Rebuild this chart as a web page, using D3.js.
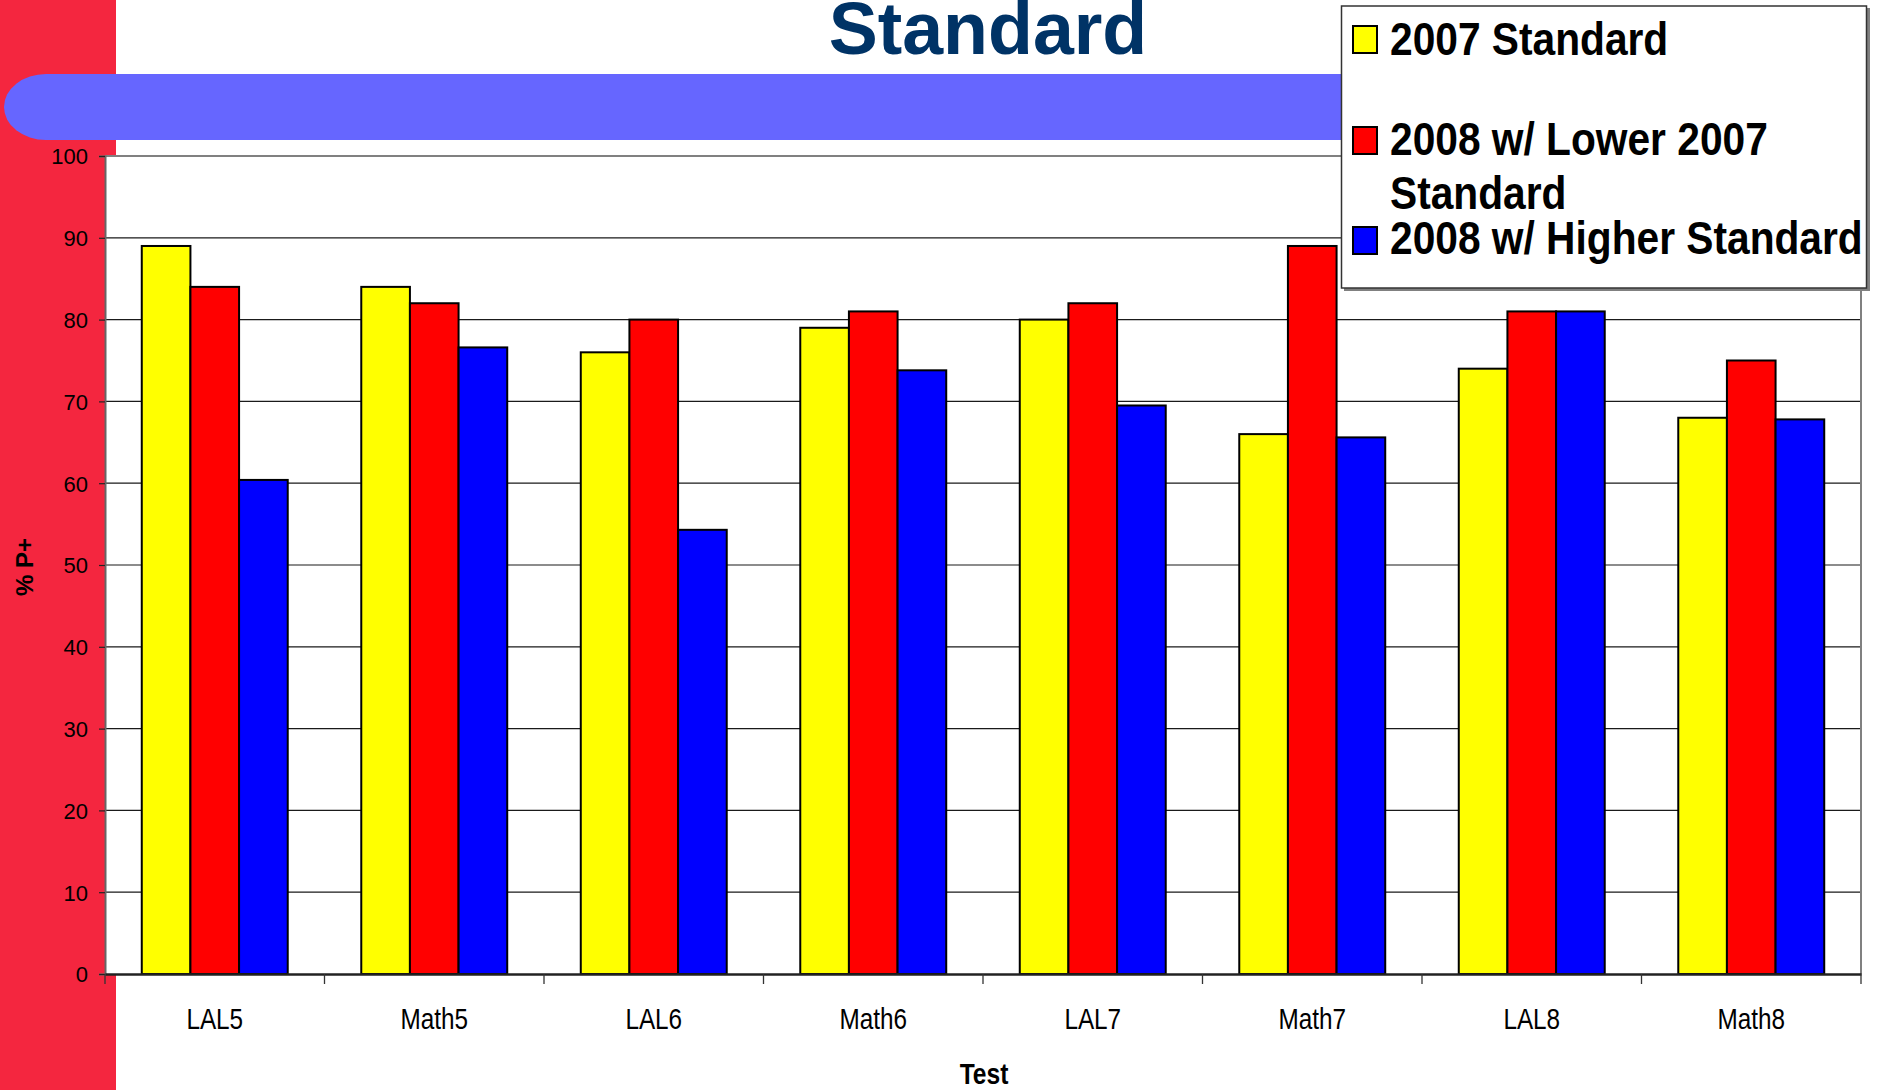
<!DOCTYPE html>
<html>
<head>
<meta charset="utf-8">
<script src="https://cdn.jsdelivr.net/npm/d3@7"></script>
<style>
  html, body { margin: 0; padding: 0; background: #fff; }
  svg { display: block; font-family: "Liberation Sans", Arial, sans-serif; }
</style>
</head>
<body>
<svg id="chart" width="1881" height="1090"></svg>
<script>
// ---- data ----
const categories = ["LAL5", "Math5", "LAL6", "Math6", "LAL7", "Math7", "LAL8", "Math8"];
const seriesNames = ["2007 Standard", "2008 w/ Lower 2007 Standard", "2008 w/ Higher Standard"];
const legendLines = [["2007 Standard"], ["2008 w/ Lower 2007", "Standard"], ["2008 w/ Higher Standard"]];
const seriesColors = ["#FFFF00", "#FF0000", "#0000FF"];
const values2007 = [89, 84, 76, 79, 80, 66, 74, 68];
const values2008Lower = [84, 82, 80, 81, 82, 89, 81, 75];
const values2008Higher = [60.4, 76.6, 54.3, 73.8, 69.5, 65.6, 81, 67.8];
const yTicks = [0, 10, 20, 30, 40, 50, 60, 70, 80, 90, 100];
const titleText = "Standard";
const yTitle = "% P+";
const xTitle = "Test";

const seriesValues = [values2007, values2008Lower, values2008Higher];

// ---- layout ----
const W = 1881, H = 1090;
const plot = { left: 105, right: 1861, top: 156, bottom: 974 };
const svg = d3.select("#chart");

// red strip on the left
svg.append("rect").attr("x", 0).attr("y", 0).attr("width", 116).attr("height", H).attr("fill", "#F4263F");

// blue pill banner
(function () {
  const x0 = 4, x1 = 1400, y0 = 74, y1 = 140, rx = 42, ry = (y1 - y0) / 2;
  svg.append("path")
    .attr("d", `M${x0 + rx},${y0} L${x1},${y0} L${x1},${y1} L${x0 + rx},${y1} A${rx},${ry} 0 0 1 ${x0 + rx},${y0} Z`)
    .attr("fill", "#6666FF");
})();

// title (second line visible)
svg.append("text").attr("x", 988).attr("y", 54).attr("text-anchor", "middle")
  .attr("font-size", 73.5).attr("font-weight", "bold").attr("fill", "#003366").text(titleText);

// plot area background
svg.append("rect").attr("x", plot.left).attr("y", plot.top)
  .attr("width", plot.right - plot.left).attr("height", plot.bottom - plot.top).attr("fill", "#fff");

// scales
const x = d3.scaleBand().domain(categories).range([plot.left, plot.right])
  .paddingInner(0.335).paddingOuter(0.1675);
const xs = d3.scaleBand().domain(d3.range(seriesNames.length)).range([0, x.bandwidth()]).padding(0);
const y = d3.scaleLinear().domain([0, 100]).range([plot.bottom, plot.top]);

// gridlines
svg.append("g").selectAll("line").data(yTicks.filter(t => t > 0 && t < 100)).join("line")
  .attr("x1", plot.left).attr("x2", plot.right)
  .attr("y1", d => y(d)).attr("y2", d => y(d))
  .attr("stroke", "#1a1a1a").attr("stroke-width", 1.2);

// plot frame top/right (gray)
svg.append("line").attr("x1", plot.left).attr("x2", plot.right).attr("y1", y(100)).attr("y2", y(100))
  .attr("stroke", "#808080").attr("stroke-width", 2);
svg.append("line").attr("x1", plot.right).attr("x2", plot.right).attr("y1", plot.top).attr("y2", plot.bottom)
  .attr("stroke", "#808080").attr("stroke-width", 2);

// bars
const groups = svg.append("g").selectAll("g").data(categories).join("g")
  .attr("transform", d => `translate(${x(d)},0)`);
groups.selectAll("rect").data((d, i) => seriesValues.map((vals, s) => ({ s, v: vals[i] }))).join("rect")
  .attr("x", d => xs(d.s)).attr("width", xs.bandwidth())
  .attr("y", d => y(d.v)).attr("height", d => y(0) - y(d.v))
  .attr("fill", d => seriesColors[d.s]).attr("stroke", "#000").attr("stroke-width", 2);

// y axis
const yAxis = svg.append("g").attr("transform", `translate(${plot.left},0)`)
  .call(d3.axisLeft(y).tickValues(yTicks).tickSize(6).tickPadding(11).tickFormat(d3.format("d")));
yAxis.select(".domain").attr("stroke", "#666").attr("stroke-width", 2);
yAxis.selectAll(".tick line").attr("stroke", "#222").attr("stroke-width", 1.2);
yAxis.selectAll(".tick text").attr("font-size", 22).attr("fill", "#000")
  .attr("font-family", "'Liberation Sans', Arial, sans-serif").attr("dy", "0.36em");

// x axis
const xAxis = svg.append("g").attr("transform", `translate(0,${plot.bottom})`)
  .call(d3.axisBottom(x).tickSize(0).tickSizeOuter(0));
xAxis.select(".domain").attr("stroke", "#222").attr("stroke-width", 2.5);
xAxis.selectAll(".tick text")
  .attr("y", 0).attr("dy", 0)
  .attr("transform", "translate(0,55) scale(0.81,1)")
  .attr("font-size", 30).attr("fill", "#000")
  .attr("font-family", "'Liberation Sans', Arial, sans-serif");

// boundary ticks
const gap = x.step() - x.bandwidth();
const boundaries = categories.map(c => x(c) - gap / 2).concat([x(categories[categories.length - 1]) + x.bandwidth() + gap / 2]);
svg.append("g").selectAll("line").data(boundaries).join("line")
  .attr("x1", d => d).attr("x2", d => d).attr("y1", plot.bottom).attr("y2", plot.bottom + 10)
  .attr("stroke", "#333").attr("stroke-width", 1.3);

// axis titles
svg.append("text").attr("transform", "translate(33,567) rotate(-90)").attr("text-anchor", "middle")
  .attr("font-size", 24).attr("font-weight", "bold").attr("fill", "#000").text(yTitle);
svg.append("text").attr("transform", "translate(984,1084) scale(0.82,1)").attr("text-anchor", "middle")
  .attr("font-size", 30).attr("font-weight", "bold").attr("fill", "#000").text(xTitle);

// legend
const lg = svg.append("g");
lg.append("rect").attr("x", 1344).attr("y", 8).attr("width", 526).attr("height", 283).attr("fill", "#808080");
lg.append("rect").attr("x", 1341.5).attr("y", 6).attr("width", 525).attr("height", 282)
  .attr("fill", "#fff").attr("stroke", "#333").attr("stroke-width", 1.5);
const swatchY = [26, 127, 227];
const baseY = [55, 155, 254];
const items = lg.selectAll("g.item").data(seriesNames).join("g").attr("class", "item");
items.append("rect").attr("x", 1353).attr("y", (d, i) => swatchY[i]).attr("width", 24).attr("height", 27)
  .attr("fill", (d, i) => seriesColors[i]).attr("stroke", "#000").attr("stroke-width", 2);
items.each(function (d, i) {
  const g = d3.select(this);
  legendLines[i].forEach((line, j) => {
    g.append("text").attr("transform", `translate(1390,${baseY[i] + j * 53.5}) scale(0.885,1)`)
      .attr("font-size", 46).attr("font-weight", "bold").attr("fill", "#000").text(line);
  });
});
</script>
</body>
</html>
